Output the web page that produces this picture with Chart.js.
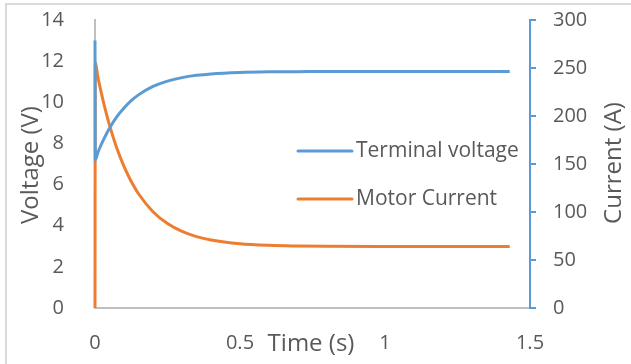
<!DOCTYPE html>
<html>
<head>
<meta charset="utf-8">
<script src="https://cdn.jsdelivr.net/npm/chart.js@4/dist/chart.umd.min.js"></script>
<style>
  html, body { margin: 0; padding: 0; background: #fff; }
  #wrap { width: 631px; height: 364px; position: relative; }
</style>
</head>
<body>
<div id="wrap"><canvas id="c" width="631" height="364"></canvas></div>
<script>
// Sample times (s)
const time = [0, 0.001, 0.01, 0.02, 0.03, 0.05, 0.075, 0.1, 0.125, 0.15, 0.2, 0.25, 0.3, 0.35, 0.4, 0.5, 0.6, 0.7, 0.8, 1.0, 1.2, 1.43];
// Terminal voltage (V)
const voltage = [13.0, 7.2, 7.56, 7.9, 8.2, 8.74, 9.29, 9.72, 10.08, 10.36, 10.77, 11.03, 11.2, 11.31, 11.38, 11.45, 11.48, 11.49, 11.5, 11.5, 11.5, 11.5];
// Motor current (A)
const current = [0, 256, 240.7, 226.5, 213.5, 190.5, 166.7, 147.5, 131.7, 119, 100.3, 88, 79.8, 74.4, 70.9, 67, 65.3, 64.6, 64.2, 64, 64, 64];

const seriesNames = ['Terminal voltage', 'Motor Current'];
const axisTitles = { x: 'Time (s)', left: 'Voltage (V)', right: 'Current (A)' };

const BLUE = '#5B9BD5';
const ORANGE = '#ED7D31';
const TEXT = '#595959';
const GRAY = '#BFBFBF';
const FONT = '"Open Sans", sans-serif';

const toPoints = (xs, ys) => xs.map((x, i) => ({ x, y: ys[i] }));

// Draws the frame, the axis titles and the in-plot legend
const decorations = {
  id: 'decorations',
  afterDraw(chart) {
    const { ctx, chartArea: a } = chart;
    ctx.save();
    // chart frame (left and top edges)
    ctx.strokeStyle = '#D9D9D9';
    ctx.lineWidth = 2;
    ctx.beginPath();
    ctx.moveTo(6, 364);
    ctx.lineTo(6, 4);
    ctx.lineTo(631, 4);
    ctx.stroke();

    ctx.fillStyle = TEXT;
    ctx.font = '24px ' + FONT;
    ctx.textAlign = 'center';
    ctx.textBaseline = 'middle';
    // x title
    ctx.fillText(axisTitles.x, 311, 344);
    // left title
    ctx.save();
    ctx.translate(31, 165);
    ctx.rotate(-Math.PI / 2);
    ctx.fillText(axisTitles.left, 0, 0);
    ctx.restore();
    // right title
    ctx.save();
    ctx.translate(614, 163);
    ctx.rotate(-Math.PI / 2);
    ctx.fillText(axisTitles.right, 0, 0);
    ctx.restore();

    // legend
    const lx0 = a.left + 203, lx1 = a.left + 257;
    const rows = [a.top + 131, a.top + 179];
    ctx.font = '21px ' + FONT;
    ctx.textAlign = 'left';
    chart.data.datasets.forEach((ds, i) => {
      ctx.strokeStyle = ds.borderColor;
      ctx.lineWidth = 3;
      ctx.lineCap = 'round';
      ctx.beginPath();
      ctx.moveTo(lx0, rows[i]);
      ctx.lineTo(lx1, rows[i]);
      ctx.stroke();
      ctx.fillText(ds.label, lx1 + 4, rows[i]);
    });
    ctx.restore();
  }
};

const tickFont = { family: FONT, size: 20 };
const fitVertical = w => s => { s.width = w; s.paddingTop = 0; s.paddingBottom = 0; };

new Chart(document.getElementById('c'), {
  type: 'line',
  data: {
    datasets: [
      {
        label: seriesNames[0],
        data: toPoints(time, voltage),
        yAxisID: 'yV',
        borderColor: BLUE,
        borderWidth: 3,
        pointRadius: 0,
        cubicInterpolationMode: 'monotone',
        clip: false,
        fill: false
      },
      {
        label: seriesNames[1],
        data: toPoints(time, current),
        yAxisID: 'yI',
        borderColor: ORANGE,
        borderWidth: 3,
        pointRadius: 0,
        cubicInterpolationMode: 'monotone',
        clip: false,
        fill: false
      }
    ]
  },
  options: {
    responsive: false,
    animation: false,
    events: [],
    layout: { padding: { top: 20, left: 0, right: 0, bottom: 0 } },
    plugins: { legend: { display: false }, tooltip: { enabled: false } },
    scales: {
      x: {
        type: 'linear',
        min: 0, max: 1.5,
        afterFit(s) { s.height = 56; s.paddingLeft = 0; s.paddingRight = 0; },
        grid: { display: false },
        border: { display: true, color: GRAY, width: 2 },
        ticks: { stepSize: 0.5, color: TEXT, padding: 15, font: tickFont, callback: v => String(v) }
      },
      yV: {
        position: 'left',
        min: 0, max: 14,
        afterFit: fitVertical(95),
        grid: { display: false },
        border: { display: true, color: GRAY, width: 2 },
        ticks: { stepSize: 2, color: TEXT, padding: 23, font: tickFont }
      },
      yI: {
        position: 'right',
        min: 0, max: 300,
        afterFit: fitVertical(101),
        grid: { display: true, drawOnChartArea: false, drawTicks: true, tickLength: 6, color: BLUE, lineWidth: 2 },
        border: { display: true, color: BLUE, width: 2 },
        ticks: { stepSize: 50, color: TEXT, padding: 17, font: tickFont }
      }
    }
  },
  plugins: [decorations]
});
</script>
</body>
</html>
